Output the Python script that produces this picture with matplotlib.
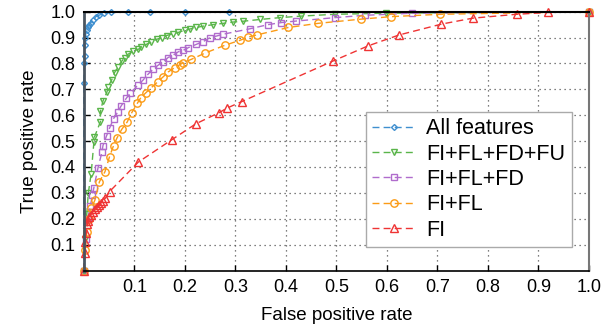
import matplotlib
matplotlib.use("Agg")
import matplotlib.pyplot as plt

plt.rcParams['font.family'] = ['Liberation Sans', 'DejaVu Sans']

ticks = [0.1, 0.2, 0.3, 0.4, 0.5, 0.6, 0.7, 0.8, 0.9, 1.0]
tick_labels = ["0.1", "0.2", "0.3", "0.4", "0.5", "0.6", "0.7", "0.8", "0.9", "1.0"]

all_x = [0, 0.0, 0.001, 0.0015, 0.002, 0.0026, 0.004, 0.0065, 0.009, 0.011, 0.014, 0.018, 0.024, 0.031, 0.041, 0.054, 0.088, 0.131, 0.2, 0.287, 1.0]
all_y = [0, 0.725, 0.80, 0.83, 0.87, 0.90, 0.915, 0.929, 0.94, 0.949, 0.958, 0.968, 0.981, 0.987, 0.994, 0.998, 0.999, 1.0, 1.0, 1.0, 1.0]

g_x = [0, 0.003, 0.006, 0.009, 0.0145, 0.02, 0.021, 0.033, 0.033, 0.038, 0.046, 0.048, 0.055, 0.061, 0.068, 0.075, 0.081, 0.088, 0.098, 0.108, 0.114, 0.124, 0.134, 0.144, 0.154, 0.164, 0.177, 0.187, 0.2, 0.21, 0.223, 0.236, 0.256, 0.276, 0.296, 0.315, 0.349, 0.388, 0.431, 0.497, 0.598, 1.0]
g_y = [0, 0.12, 0.22, 0.30, 0.372, 0.495, 0.515, 0.575, 0.615, 0.655, 0.69, 0.71, 0.735, 0.765, 0.788, 0.808, 0.823, 0.836, 0.848, 0.855, 0.862, 0.874, 0.883, 0.893, 0.9, 0.908, 0.915, 0.92, 0.928, 0.933, 0.939, 0.944, 0.95, 0.955, 0.96, 0.963, 0.97, 0.977, 0.983, 0.99, 0.994, 1.0]

p_x = [0, 0.004, 0.008, 0.013, 0.017, 0.02, 0.028, 0.036, 0.038, 0.045, 0.051, 0.059, 0.067, 0.074, 0.084, 0.092, 0.107, 0.117, 0.127, 0.137, 0.147, 0.157, 0.167, 0.177, 0.187, 0.197, 0.207, 0.223, 0.236, 0.25, 0.263, 0.276, 0.329, 0.365, 0.391, 0.421, 0.497, 0.556, 0.65, 1.0]
p_y = [0, 0.12, 0.2, 0.25, 0.29, 0.32, 0.395, 0.458, 0.483, 0.52, 0.55, 0.587, 0.612, 0.636, 0.665, 0.685, 0.716, 0.735, 0.758, 0.778, 0.793, 0.806, 0.823, 0.832, 0.845, 0.851, 0.861, 0.874, 0.884, 0.9, 0.906, 0.913, 0.934, 0.95, 0.958, 0.964, 0.977, 0.986, 0.994, 1.0]

o_x = [0, 0.003, 0.006, 0.01, 0.015, 0.022, 0.031, 0.042, 0.051, 0.059, 0.066, 0.075, 0.086, 0.095, 0.106, 0.113, 0.123, 0.134, 0.147, 0.157, 0.167, 0.18, 0.19, 0.197, 0.213, 0.24, 0.279, 0.31, 0.325, 0.342, 0.405, 0.464, 0.548, 0.609, 0.706, 1.0]
o_y = [0, 0.08, 0.15, 0.2, 0.24, 0.272, 0.343, 0.382, 0.44, 0.483, 0.513, 0.545, 0.574, 0.61, 0.646, 0.668, 0.687, 0.707, 0.73, 0.748, 0.767, 0.784, 0.795, 0.803, 0.816, 0.84, 0.87, 0.89, 0.902, 0.91, 0.939, 0.955, 0.971, 0.981, 0.99, 1.0]

r_x = [0, 0.002, 0.003, 0.005, 0.007, 0.009, 0.011, 0.014, 0.018, 0.022, 0.026, 0.03, 0.034, 0.038, 0.043, 0.051, 0.108, 0.174, 0.222, 0.268, 0.283, 0.313, 0.494, 0.563, 0.624, 0.708, 0.77, 0.857, 0.919, 1.0]
r_y = [0, 0.068, 0.111, 0.146, 0.178, 0.19, 0.205, 0.215, 0.228, 0.238, 0.245, 0.253, 0.262, 0.27, 0.28, 0.305, 0.419, 0.505, 0.567, 0.61, 0.627, 0.653, 0.81, 0.868, 0.91, 0.952, 0.975, 0.99, 0.997, 1.0]

series = [
    ("All features", all_x, all_y, '#3f8fcf', 'D', 3.0),
    ("FI+FL+FD+FU", g_x, g_y, '#5ab54a', 'v', 5.0),
    ("FI+FL+FD", p_x, p_y, '#b06ccc', 's', 4.8),
    ("FI+FL", o_x, o_y, '#fb9b16', 'o', 5.3),
    ("FI", r_x, r_y, '#ef3434', '^', 6.0),
]

fig = plt.figure(figsize=(6.16, 3.34), dpi=100)
ax = fig.add_axes([0.136, 0.19, 0.82, 0.775])

for label, xs, ys, c, m, ms in series:
    ax.plot(xs, ys, linestyle=(0, (5, 3)), color=c, lw=1.0, marker=m,
            markersize=ms, markerfacecolor='none', markeredgecolor=c,
            markeredgewidth=1.0, label=label, clip_on=False)

ax.set_xlim(0, 1)
ax.set_ylim(0, 1)
ax.set_xticks(ticks)
ax.set_xticklabels(tick_labels)
ax.set_yticks(ticks)
ax.set_yticklabels(tick_labels)
ax.tick_params(direction='in', length=4, width=1, labelsize=13, pad=6,
               top=False, right=False)
ax.grid(True, linestyle=(0, (1, 3)), color='#555555', lw=0.9)
ax.set_axisbelow(True)

ax.spines['left'].set_color('#4a5560')
ax.spines['left'].set_linewidth(2.0)
ax.spines['bottom'].set_color('black')
ax.spines['bottom'].set_linewidth(1.2)
ax.spines['top'].set_color('black')
ax.spines['top'].set_linewidth(1.5)
ax.spines['right'].set_color('#777777')
ax.spines['right'].set_linewidth(1.5)

ax.set_xlabel("False positive rate", fontsize=13.5, labelpad=8)
ax.set_ylabel("True positive rate", fontsize=13.5, labelpad=9)

leg = ax.legend(loc='lower right', bbox_to_anchor=(0.966, 0.091), fontsize=15.5,
                fancybox=False, edgecolor='#aaaaaa', framealpha=1,
                handlelength=2.0, handletextpad=0.5, labelspacing=0.2,
                borderpad=0.3, borderaxespad=0)
leg.get_frame().set_linewidth(1.0)

fig.savefig("out.png", dpi=100)
